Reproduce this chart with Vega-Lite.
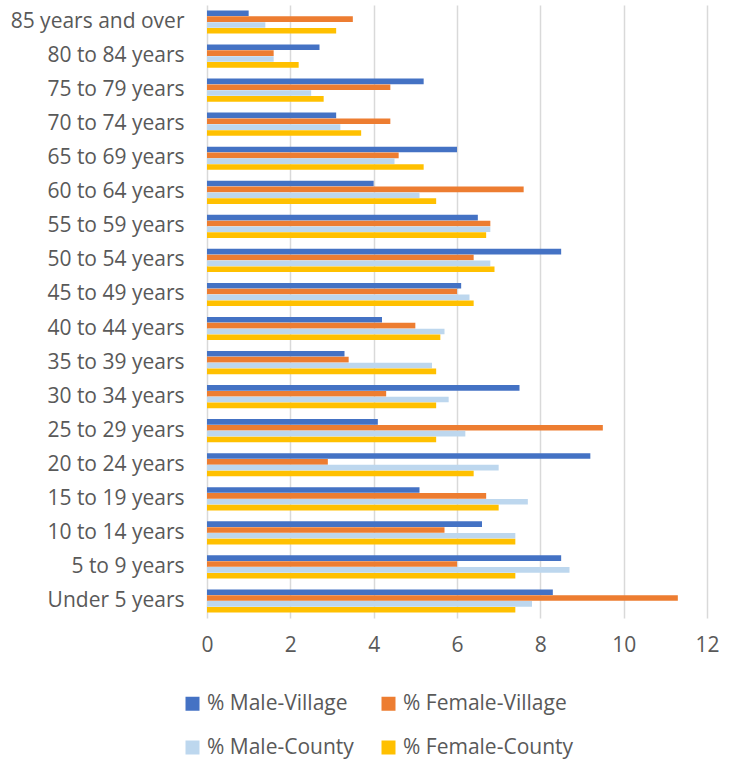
{
  "$schema": "https://vega.github.io/schema/vega-lite/v6.json",
  "width": 500,
  "height": 613,
  "autosize": {"type": "none"},
  "padding": {"left": 207, "top": 5, "right": 33, "bottom": 141},
  "background": "white",
  "config": {
    "view": {"stroke": null},
    "font": "Open Sans",
    "axis": {"labelFont": "Open Sans", "labelColor": "#595959", "labelFontSize": 21},
    "legend": {"labelFont": "Open Sans", "labelColor": "#595959", "labelFontSize": 21}
  },
  "data": {"values": [
    {"age": "85 years and over", "series": "% Male-Village", "value": 1.0},
    {"age": "85 years and over", "series": "% Female-Village", "value": 3.5},
    {"age": "85 years and over", "series": "% Male-County", "value": 1.4},
    {"age": "85 years and over", "series": "% Female-County", "value": 3.1},
    {"age": "80 to 84 years", "series": "% Male-Village", "value": 2.7},
    {"age": "80 to 84 years", "series": "% Female-Village", "value": 1.6},
    {"age": "80 to 84 years", "series": "% Male-County", "value": 1.6},
    {"age": "80 to 84 years", "series": "% Female-County", "value": 2.2},
    {"age": "75 to 79 years", "series": "% Male-Village", "value": 5.2},
    {"age": "75 to 79 years", "series": "% Female-Village", "value": 4.4},
    {"age": "75 to 79 years", "series": "% Male-County", "value": 2.5},
    {"age": "75 to 79 years", "series": "% Female-County", "value": 2.8},
    {"age": "70 to 74 years", "series": "% Male-Village", "value": 3.1},
    {"age": "70 to 74 years", "series": "% Female-Village", "value": 4.4},
    {"age": "70 to 74 years", "series": "% Male-County", "value": 3.2},
    {"age": "70 to 74 years", "series": "% Female-County", "value": 3.7},
    {"age": "65 to 69 years", "series": "% Male-Village", "value": 6.0},
    {"age": "65 to 69 years", "series": "% Female-Village", "value": 4.6},
    {"age": "65 to 69 years", "series": "% Male-County", "value": 4.5},
    {"age": "65 to 69 years", "series": "% Female-County", "value": 5.2},
    {"age": "60 to 64 years", "series": "% Male-Village", "value": 4.0},
    {"age": "60 to 64 years", "series": "% Female-Village", "value": 7.6},
    {"age": "60 to 64 years", "series": "% Male-County", "value": 5.1},
    {"age": "60 to 64 years", "series": "% Female-County", "value": 5.5},
    {"age": "55 to 59 years", "series": "% Male-Village", "value": 6.5},
    {"age": "55 to 59 years", "series": "% Female-Village", "value": 6.8},
    {"age": "55 to 59 years", "series": "% Male-County", "value": 6.8},
    {"age": "55 to 59 years", "series": "% Female-County", "value": 6.7},
    {"age": "50 to 54 years", "series": "% Male-Village", "value": 8.5},
    {"age": "50 to 54 years", "series": "% Female-Village", "value": 6.4},
    {"age": "50 to 54 years", "series": "% Male-County", "value": 6.8},
    {"age": "50 to 54 years", "series": "% Female-County", "value": 6.9},
    {"age": "45 to 49 years", "series": "% Male-Village", "value": 6.1},
    {"age": "45 to 49 years", "series": "% Female-Village", "value": 6.0},
    {"age": "45 to 49 years", "series": "% Male-County", "value": 6.3},
    {"age": "45 to 49 years", "series": "% Female-County", "value": 6.4},
    {"age": "40 to 44 years", "series": "% Male-Village", "value": 4.2},
    {"age": "40 to 44 years", "series": "% Female-Village", "value": 5.0},
    {"age": "40 to 44 years", "series": "% Male-County", "value": 5.7},
    {"age": "40 to 44 years", "series": "% Female-County", "value": 5.6},
    {"age": "35 to 39 years", "series": "% Male-Village", "value": 3.3},
    {"age": "35 to 39 years", "series": "% Female-Village", "value": 3.4},
    {"age": "35 to 39 years", "series": "% Male-County", "value": 5.4},
    {"age": "35 to 39 years", "series": "% Female-County", "value": 5.5},
    {"age": "30 to 34 years", "series": "% Male-Village", "value": 7.5},
    {"age": "30 to 34 years", "series": "% Female-Village", "value": 4.3},
    {"age": "30 to 34 years", "series": "% Male-County", "value": 5.8},
    {"age": "30 to 34 years", "series": "% Female-County", "value": 5.5},
    {"age": "25 to 29 years", "series": "% Male-Village", "value": 4.1},
    {"age": "25 to 29 years", "series": "% Female-Village", "value": 9.5},
    {"age": "25 to 29 years", "series": "% Male-County", "value": 6.2},
    {"age": "25 to 29 years", "series": "% Female-County", "value": 5.5},
    {"age": "20 to 24 years", "series": "% Male-Village", "value": 9.2},
    {"age": "20 to 24 years", "series": "% Female-Village", "value": 2.9},
    {"age": "20 to 24 years", "series": "% Male-County", "value": 7.0},
    {"age": "20 to 24 years", "series": "% Female-County", "value": 6.4},
    {"age": "15 to 19 years", "series": "% Male-Village", "value": 5.1},
    {"age": "15 to 19 years", "series": "% Female-Village", "value": 6.7},
    {"age": "15 to 19 years", "series": "% Male-County", "value": 7.7},
    {"age": "15 to 19 years", "series": "% Female-County", "value": 7.0},
    {"age": "10 to 14 years", "series": "% Male-Village", "value": 6.6},
    {"age": "10 to 14 years", "series": "% Female-Village", "value": 5.7},
    {"age": "10 to 14 years", "series": "% Male-County", "value": 7.4},
    {"age": "10 to 14 years", "series": "% Female-County", "value": 7.4},
    {"age": "5 to 9 years", "series": "% Male-Village", "value": 8.5},
    {"age": "5 to 9 years", "series": "% Female-Village", "value": 6.0},
    {"age": "5 to 9 years", "series": "% Male-County", "value": 8.7},
    {"age": "5 to 9 years", "series": "% Female-County", "value": 7.4},
    {"age": "Under 5 years", "series": "% Male-Village", "value": 8.3},
    {"age": "Under 5 years", "series": "% Female-Village", "value": 11.3},
    {"age": "Under 5 years", "series": "% Male-County", "value": 7.8},
    {"age": "Under 5 years", "series": "% Female-County", "value": 7.4}
  ]},
  "mark": {"type": "bar"},
  "encoding": {
    "y": {
      "field": "age", "type": "nominal",
      "sort": ["85 years and over", "80 to 84 years", "75 to 79 years", "70 to 74 years", "65 to 69 years", "60 to 64 years", "55 to 59 years", "50 to 54 years", "45 to 49 years", "40 to 44 years", "35 to 39 years", "30 to 34 years", "25 to 29 years", "20 to 24 years", "15 to 19 years", "10 to 14 years", "5 to 9 years", "Under 5 years"],
      "scale": {"paddingInner": 0.32, "paddingOuter": 0.16},
      "axis": {"title": null, "ticks": false, "domain": false, "labelPadding": 23, "grid": false, "labelLimit": 300}
    },
    "yOffset": {
      "field": "series", "type": "nominal",
      "sort": ["% Male-Village", "% Female-Village", "% Male-County", "% Female-County"],
      "scale": {"paddingInner": 0.04}
    },
    "x": {
      "field": "value", "type": "quantitative",
      "scale": {"domain": [0, 12], "nice": false},
      "axis": {"title": null, "values": [0, 2, 4, 6, 8, 10, 12], "ticks": false, "domain": false, "labelPadding": 16, "grid": true, "gridColor": "#D9D9D9", "gridWidth": 1.5, "labelFlush": false}
    },
    "color": {
      "field": "series", "type": "nominal",
      "sort": ["% Male-Village", "% Female-Village", "% Male-County", "% Female-County"],
      "scale": {"domain": ["% Male-Village", "% Female-Village", "% Male-County", "% Female-County"], "range": ["#4472C4", "#ED7D31", "#BDD7EE", "#FFC000"]},
      "legend": {"title": null, "orient": "none", "legendX": -25, "legendY": 688, "columns": 2, "symbolType": "square", "symbolSize": 196, "symbolStrokeWidth": 0, "labelOffset": 4, "rowPadding": 22, "columnPadding": 24, "labelLimit": 300, "direction": "horizontal"}
    }
  }
}
